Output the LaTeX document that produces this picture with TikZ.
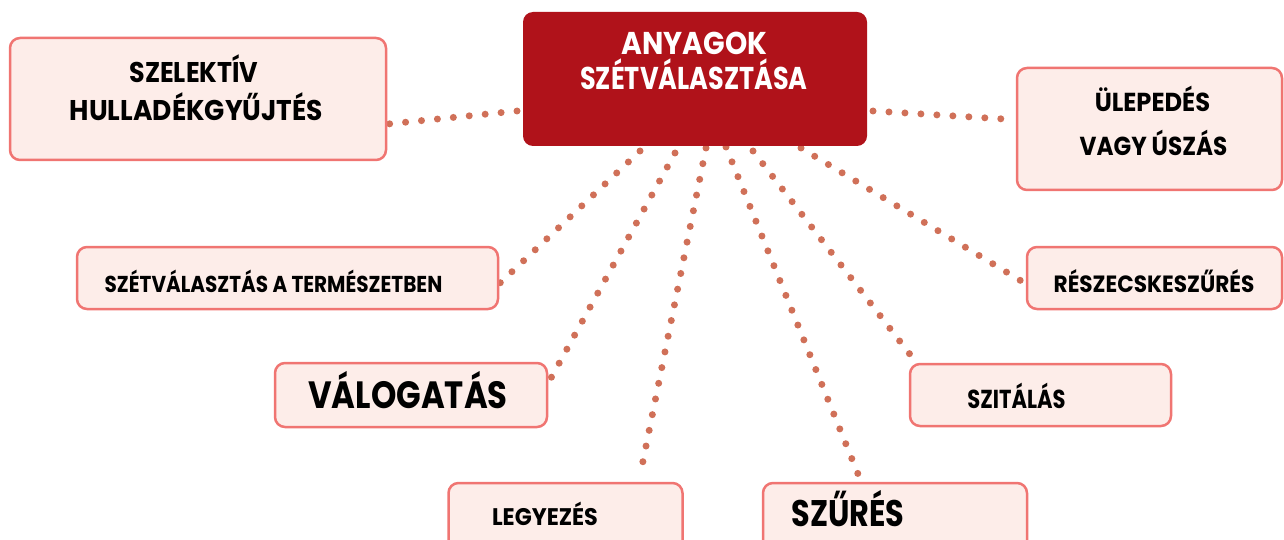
\documentclass[tikz,border=0pt]{standalone}
\usepackage{fontspec}
\setmainfont{Poppins}
\definecolor{hubred}{RGB}{176,18,26}
\definecolor{boxfill}{RGB}{253,237,233}
\definecolor{boxline}{RGB}{240,117,114}
\definecolor{dotc}{RGB}{208,112,88}
\tikzset{
  box/.style={draw=boxline, fill=boxfill, line width=2.5pt, rounded corners=10pt, inner sep=0pt, outer sep=0pt},
  hubbox/.style={fill=hubred, rounded corners=10pt, inner sep=0pt, outer sep=0pt},
  dotline/.style={draw=dotc, line width=7pt, line cap=round, dash pattern=on 0pt off 16pt},
  lbl/.style={anchor=base, inner sep=0pt, font=\bfseries},
}
\newcommand{\fs}[1]{\fontsize{#1}{#1}\selectfont}
\newcommand{\sx}[2]{\scalebox{#1}[1]{#2}}
\begin{document}
\begin{tikzpicture}[x=1pt,y=-1pt]
\useasboundingbox (0,0) rectangle (1284,540);
\clip (0,0) rectangle (1284,540);
% connector end points
\coordinate (s1) at (517,111); \coordinate (e1) at (388,124);
\coordinate (s2) at (873,111); \coordinate (e2) at (1004,119);
\coordinate (s3) at (640,151); \coordinate (e3) at (500,283);
\coordinate (s4) at (675,153); \coordinate (e4) at (551,378);
\coordinate (s5) at (706,148); \coordinate (e5) at (640,476);
\coordinate (s6) at (726,147); \coordinate (e6) at (858,474);
\coordinate (s7) at (753,151); \coordinate (e7) at (912,357);
\coordinate (s8) at (801,148); \coordinate (e8) at (1071,311);
\foreach \i in {1,...,8} { \draw[dotline] (s\i) -- (e\i); }
% boxes
\node[hubbox, minimum width=344pt, minimum height=134pt] (hub) at (695,79) {};
\node[box, minimum width=376pt, minimum height=122pt] (szel) at (198,99) {};
\node[box, minimum width=265pt, minimum height=122pt] (ulep) at (1149.5,129) {};
\node[box, minimum width=421pt, minimum height=62pt] (term) at (287.5,278) {};
\node[box, minimum width=255pt, minimum height=62pt] (resz) at (1154.5,278) {};
\node[box, minimum width=272pt, minimum height=64pt] (valo) at (411,395) {};
\node[box, minimum width=261pt, minimum height=62pt] (szit) at (1040.5,395) {};
\node[box, minimum width=234pt, minimum height=100pt] (legy) at (565.5,533) {};
\node[box, minimum width=264pt, minimum height=100pt] (szur) at (895,533) {};
% labels
\node[lbl, text=white, font=\bfseries\fs{31.5}] (hubA) at (694.5,55) {\sx{0.90}{ANYAGOK}};
\node[lbl, text=white, font=\bfseries\fs{31.5}] (hubB) at (694,90) {\sx{0.81}{SZÉTVÁLASZTÁSA}};
\node[lbl, font=\bfseries\fs{28.5}] (szelA) at (194,83) {\sx{0.89}{SZELEKTÍV}};
\node[lbl, font=\bfseries\fs{28.5}] (szelB) at (196.5,121) {\sx{0.93}{HULLADÉKGYŰJTÉS}};
\node[lbl, font=\bfseries\fs{26}] (ulepA) at (1152.5,112) {\sx{0.93}{ÜLEPEDÉS}};
\node[lbl, font=\bfseries\fs{26}] (ulepB) at (1153.5,156) {\sx{0.89}{VAGY ÚSZÁS}};
\node[lbl, font=\bfseries\fs{23}] (termT) at (273.5,292) {\sx{0.87}{SZÉTVÁLASZTÁS A TERMÉSZETBEN}};
\node[lbl, font=\bfseries\fs{23.5}] (reszT) at (1154,292) {\sx{0.92}{RÉSZECSKESZŰRÉS}};
\node[lbl, font=\bfseries\fs{38}] (valoT) at (408,408) {\sx{0.85}{VÁLOGATÁS}};
\node[lbl, font=\bfseries\fs{26}] (szitT) at (1016.5,408) {\sx{0.81}{SZITÁLÁS}};
\node[lbl, font=\bfseries\fs{24}] (legyT) at (545,525) {\sx{0.93}{LEGYEZÉS}};
\node[lbl, font=\bfseries\fs{37}] (szurT) at (848,526) {\sx{0.82}{SZŰRÉS}};
\end{tikzpicture}
\end{document}
